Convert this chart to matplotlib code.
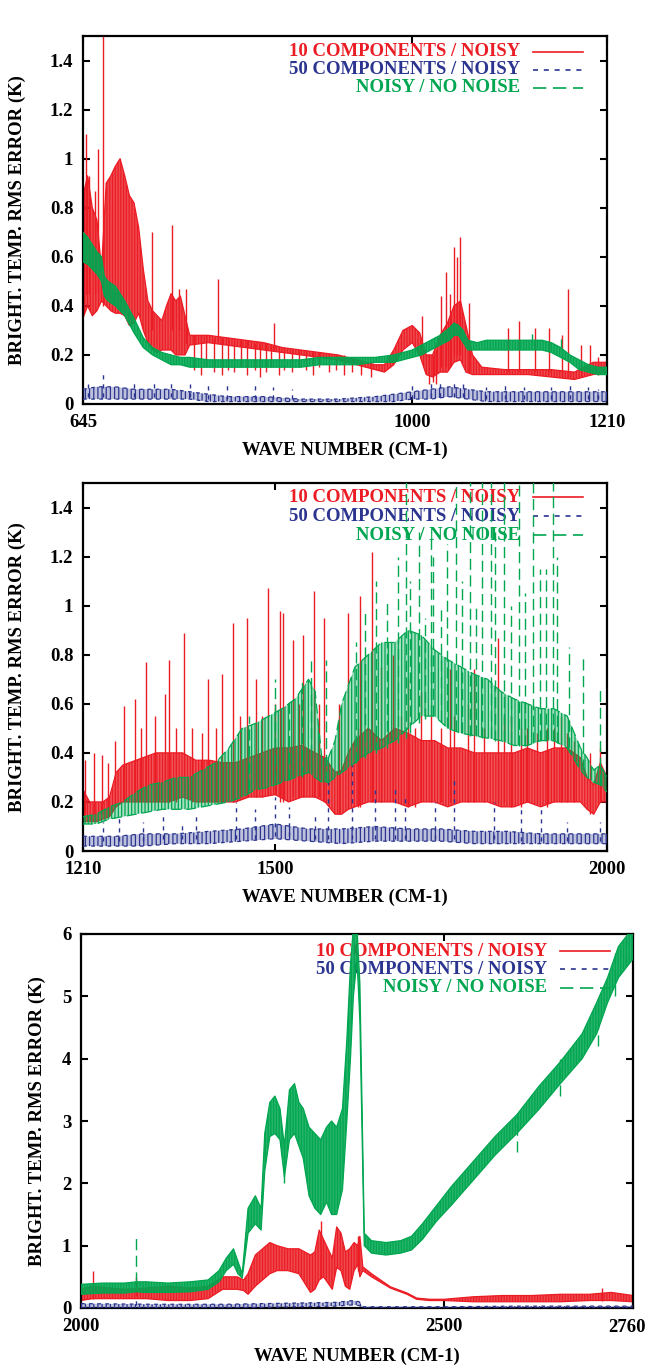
import matplotlib
matplotlib.use('Agg')
import matplotlib.pyplot as plt
from matplotlib.lines import Line2D
from matplotlib.colors import to_rgba

# colores de las tres curvas
RED = '#ec1c24'
BLUE = '#2b3590'
GREEN = '#00a650'

# ---------------- panel 1 : 645 - 1210 ----------------
p1_red_x = [645, 650, 655, 660, 665, 670, 675, 680, 685, 690, 695, 700, 705, 710, 715, 720, 725, 730, 735, 740,
            745, 750, 755, 760, 780, 800, 820, 840, 860, 880, 900, 920, 940, 960, 970, 980, 990, 1000, 1008, 1015,
            1022, 1030, 1038, 1045, 1052, 1058, 1065, 1075, 1100, 1125, 1150, 1175, 1195, 1210]
p1_red_hi = [0.85, 0.93, 0.8, 0.75, 0.55, 0.9, 0.93, 0.97, 1.0, 0.93, 0.85, 0.82, 0.72, 0.55, 0.42, 0.38, 0.36, 0.34, 0.4, 0.45,
             0.42, 0.44, 0.36, 0.28, 0.28, 0.27, 0.26, 0.25, 0.23, 0.22, 0.21, 0.2, 0.18, 0.16, 0.16, 0.22, 0.3, 0.32, 0.29, 0.2,
             0.2, 0.28, 0.33, 0.4, 0.42, 0.32, 0.2, 0.15, 0.14, 0.14, 0.14, 0.13, 0.17, 0.17]
p1_red_lo = [0.35, 0.4, 0.36, 0.38, 0.42, 0.4, 0.38, 0.37, 0.37, 0.36, 0.32, 0.33, 0.37, 0.3, 0.25, 0.22, 0.21, 0.22, 0.22, 0.22,
             0.2, 0.2, 0.2, 0.24, 0.25, 0.24, 0.23, 0.22, 0.21, 0.2, 0.19, 0.18, 0.16, 0.14, 0.13, 0.16, 0.22, 0.25, 0.2, 0.12,
             0.11, 0.13, 0.13, 0.17, 0.18, 0.13, 0.12, 0.12, 0.12, 0.12, 0.11, 0.1, 0.12, 0.13]
p1_red_vx = [648, 652, 658, 661, 667, 719, 741, 748, 756, 791, 851, 765, 772, 778, 786, 795, 801, 808, 815, 822,
             830, 836, 842, 848, 856, 862, 870, 878, 885, 893, 900, 910, 918, 926, 935, 945, 955, 1010, 1018, 1022,
             1026, 1031, 1036, 1041, 1045, 1048, 1051, 1061, 1103, 1115, 1132, 1148, 1161, 1168, 1182, 1192, 1200]
p1_red_v0 = [0.45, 0.45, 0.45, 0.45, 0.4, 0.3, 0.3, 0.3, 0.25, 0.25, 0.22, 0.14, 0.12, 0.15, 0.13, 0.12, 0.14, 0.13, 0.15, 0.12,
             0.14, 0.11, 0.13, 0.15, 0.12, 0.14, 0.13, 0.15, 0.14, 0.12, 0.15, 0.13, 0.14, 0.12, 0.13, 0.12, 0.11, 0.2, 0.08, 0.09,
             0.08, 0.15, 0.15, 0.15, 0.2, 0.2, 0.2, 0.13, 0.13, 0.13, 0.13, 0.13, 0.12, 0.11, 0.11, 0.12, 0.12]
p1_red_v1 = [1.1, 0.93, 0.87, 1.04, 1.6, 0.7, 0.73, 0.47, 0.47, 0.51, 0.33, 0.28, 0.28, 0.28, 0.27, 0.27, 0.27, 0.26, 0.26, 0.26,
             0.25, 0.25, 0.25, 0.24, 0.23, 0.23, 0.22, 0.22, 0.22, 0.21, 0.21, 0.2, 0.2, 0.2, 0.19, 0.18, 0.17, 0.36, 0.2, 0.2,
             0.22, 0.44, 0.54, 0.45, 0.64, 0.6, 0.68, 0.41, 0.31, 0.34, 0.31, 0.31, 0.28, 0.47, 0.24, 0.24, 0.19]

p1_blu_x = [645, 660, 680, 700, 720, 740, 760, 780, 800, 840, 880, 920, 960, 980, 1000, 1020, 1040, 1060, 1080, 1100, 1140, 1180, 1210]
p1_blu_hi = [0.06, 0.07, 0.07, 0.06, 0.06, 0.06, 0.05, 0.04, 0.03, 0.03, 0.02, 0.02, 0.03, 0.04, 0.05, 0.06, 0.07, 0.06, 0.05, 0.05, 0.05, 0.05, 0.05]
p1_blu_lo = [0.02, 0.02, 0.02, 0.02, 0.02, 0.02, 0.02, 0.01, 0.01, 0.01, 0.01, 0.01, 0.01, 0.01, 0.02, 0.02, 0.03, 0.02, 0.01, 0.01, 0.01, 0.01, 0.01]
p1_blu_vx = [650, 667, 700, 722, 740, 760, 780, 800, 830, 850, 870, 1000, 1020, 1030, 1045, 1055, 1080, 1100, 1120, 1150, 1170, 1190, 1200]
p1_blu_v0 = [0.03, 0.03, 0.03, 0.03, 0.03, 0.03, 0.02, 0.02, 0.02, 0.02, 0.02, 0.02, 0.03, 0.03, 0.03, 0.03, 0.02, 0.02, 0.02, 0.02, 0.02, 0.02, 0.02]
p1_blu_v1 = [0.08, 0.14, 0.1, 0.1, 0.1, 0.08, 0.09, 0.08, 0.09, 0.07, 0.06, 0.08, 0.1, 0.09, 0.1, 0.08, 0.07, 0.08, 0.07, 0.07, 0.08, 0.07, 0.06]

p1_grn_x = [645, 650, 655, 660, 665, 668, 672, 680, 690, 700, 710, 720, 730, 740, 750, 760, 780, 800, 820, 840,
            860, 880, 900, 920, 940, 960, 980, 1000, 1010, 1020, 1030, 1040, 1045, 1050, 1055, 1060, 1070, 1080, 1100, 1120,
            1140, 1150, 1160, 1170, 1180, 1190, 1200, 1210]
p1_grn_hi = [0.7, 0.68, 0.65, 0.62, 0.6, 0.52, 0.5, 0.48, 0.42, 0.35, 0.27, 0.23, 0.21, 0.2, 0.19, 0.19, 0.18, 0.18, 0.18, 0.18,
             0.18, 0.18, 0.19, 0.19, 0.19, 0.19, 0.2, 0.22, 0.24, 0.26, 0.28, 0.31, 0.33, 0.32, 0.3, 0.26, 0.25, 0.26, 0.26, 0.26,
             0.26, 0.25, 0.23, 0.2, 0.18, 0.16, 0.15, 0.15]
p1_grn_lo = [0.58, 0.57, 0.55, 0.53, 0.5, 0.44, 0.42, 0.4, 0.36, 0.29, 0.23, 0.2, 0.18, 0.16, 0.16, 0.15, 0.15, 0.15, 0.15, 0.15,
             0.15, 0.15, 0.16, 0.16, 0.16, 0.17, 0.17, 0.19, 0.2, 0.22, 0.24, 0.26, 0.28, 0.28, 0.25, 0.22, 0.22, 0.22, 0.22, 0.22,
             0.22, 0.21, 0.19, 0.17, 0.14, 0.13, 0.12, 0.12]
p1_grn_vx = [1129, 1160]
p1_grn_v0 = [0.24, 0.22]
p1_grn_v1 = [0.3, 0.27]

# ---------------- panel 2 : 1210 - 2000 ----------------
p2_red_x = [1210, 1220, 1230, 1240, 1250, 1260, 1270, 1280, 1300, 1320, 1340, 1360, 1380, 1400, 1420, 1440, 1460, 1480, 1500, 1520,
            1540, 1560, 1575, 1590, 1600, 1610, 1620, 1640, 1660, 1680, 1700, 1720, 1740, 1760, 1780, 1800, 1820, 1840, 1860, 1880,
            1900, 1920, 1940, 1960, 1970, 1980, 1990, 2000]
p2_red_hi = [0.25, 0.2, 0.2, 0.2, 0.22, 0.32, 0.35, 0.36, 0.38, 0.4, 0.4, 0.4, 0.37, 0.37, 0.36, 0.36, 0.38, 0.4, 0.42, 0.42,
             0.43, 0.4, 0.38, 0.32, 0.33, 0.4, 0.45, 0.5, 0.45, 0.5, 0.48, 0.45, 0.45, 0.42, 0.42, 0.4, 0.4, 0.4, 0.4, 0.42,
             0.4, 0.42, 0.42, 0.38, 0.3, 0.27, 0.36, 0.3]
p2_red_lo = [0.12, 0.12, 0.12, 0.13, 0.14, 0.18, 0.2, 0.2, 0.2, 0.2, 0.2, 0.22, 0.2, 0.2, 0.2, 0.2, 0.22, 0.22, 0.23, 0.2,
             0.22, 0.22, 0.2, 0.15, 0.15, 0.17, 0.18, 0.2, 0.2, 0.2, 0.18, 0.2, 0.2, 0.18, 0.2, 0.2, 0.2, 0.18, 0.18, 0.2,
             0.18, 0.2, 0.2, 0.2, 0.17, 0.15, 0.2, 0.2]
p2_red_vx = [1213, 1226, 1239, 1248, 1258, 1272, 1288, 1297, 1305, 1319, 1333, 1339, 1350, 1362, 1375, 1389, 1398, 1410, 1419, 1436,
             1447, 1457, 1471, 1480, 1489, 1500, 1507, 1511, 1526, 1535, 1542, 1559, 1566, 1574, 1596, 1610, 1625, 1627, 1645, 1660,
             1678, 1690, 1700, 1710, 1720, 1735, 1750, 1763, 1770, 1790, 1800, 1815, 1835, 1845, 1855, 1870, 1880, 1895, 1910, 1920,
             1930, 1940, 1950, 1975, 1990]
p2_red_v0 = [0.15, 0.15, 0.15, 0.15, 0.18, 0.2, 0.2, 0.2, 0.2, 0.2, 0.2, 0.2, 0.2, 0.22, 0.2, 0.2, 0.2, 0.2, 0.2, 0.2,
             0.22, 0.22, 0.22, 0.22, 0.23, 0.23, 0.2, 0.2, 0.22, 0.22, 0.22, 0.22, 0.22, 0.2, 0.15, 0.17, 0.18, 0.18, 0.2, 0.2,
             0.2, 0.2, 0.18, 0.18, 0.2, 0.2, 0.2, 0.2, 0.2, 0.2, 0.2, 0.2, 0.2, 0.2, 0.18, 0.18, 0.2, 0.2, 0.18, 0.2,
             0.2, 0.2, 0.2, 0.15, 0.2]
p2_red_v1 = [0.37, 0.4, 0.39, 0.36, 0.45, 0.59, 0.62, 0.5, 0.77, 0.55, 0.64, 0.78, 0.5, 0.89, 0.5, 0.48, 0.7, 0.5, 0.72, 0.93,
             0.55, 0.95, 0.7, 0.55, 1.07, 0.6, 0.98, 0.97, 0.86, 0.6, 0.88, 1.06, 0.6, 0.95, 0.6, 0.97, 0.5, 1.04, 1.22, 0.75,
             0.8, 0.55, 0.7, 0.5, 0.65, 0.55, 0.5, 0.74, 0.55, 0.6, 0.74, 0.5, 0.87, 0.55, 0.55, 0.5, 0.5, 0.48, 0.5, 0.5,
             0.55, 0.48, 0.45, 0.4, 0.42]

p2_blu_x = [1210, 1260, 1300, 1350, 1400, 1450, 1500, 1550, 1600, 1650, 1700, 1750, 1800, 1850, 1900, 1950, 2000]
p2_blu_hi = [0.06, 0.06, 0.07, 0.07, 0.08, 0.09, 0.11, 0.09, 0.09, 0.1, 0.09, 0.09, 0.08, 0.08, 0.07, 0.07, 0.07]
p2_blu_lo = [0.02, 0.02, 0.02, 0.03, 0.03, 0.04, 0.05, 0.04, 0.03, 0.04, 0.04, 0.04, 0.03, 0.03, 0.03, 0.03, 0.03]
p2_blu_vx = [1240, 1265, 1300, 1330, 1360, 1380, 1440, 1470, 1500, 1520, 1560, 1579, 1616, 1650, 1680, 1695, 1740, 1770, 1830, 1870, 1900, 1940, 1990]
p2_blu_v0 = [0.04, 0.04, 0.04, 0.05, 0.05, 0.05, 0.05, 0.05, 0.06, 0.06, 0.05, 0.05, 0.05, 0.05, 0.05, 0.05, 0.05, 0.05, 0.05, 0.04, 0.04, 0.04, 0.04]
p2_blu_v1 = [0.12, 0.14, 0.12, 0.15, 0.12, 0.16, 0.2, 0.17, 0.22, 0.18, 0.16, 0.28, 0.35, 0.25, 0.27, 0.23, 0.2, 0.3, 0.2, 0.18, 0.18, 0.12, 0.12]

p2_grn_x = [1210, 1230, 1250, 1270, 1290, 1310, 1330, 1350, 1370, 1390, 1410, 1430, 1450, 1470, 1490, 1510, 1530, 1550, 1560, 1570,
            1580, 1590, 1600, 1620, 1640, 1660, 1680, 1700, 1720, 1740, 1760, 1780, 1800, 1820, 1840, 1860, 1880, 1900, 1920, 1940,
            1960, 1970, 1980, 1990, 2000]
p2_grn_hi = [0.14, 0.15, 0.18, 0.2, 0.24, 0.27, 0.28, 0.3, 0.3, 0.33, 0.36, 0.42, 0.5, 0.52, 0.55, 0.58, 0.62, 0.7, 0.65, 0.38,
             0.38, 0.45, 0.6, 0.75, 0.8, 0.85, 0.85, 0.9, 0.88, 0.82, 0.78, 0.75, 0.72, 0.7, 0.65, 0.62, 0.6, 0.58, 0.58, 0.55,
             0.42, 0.38, 0.33, 0.35, 0.3]
p2_grn_lo = [0.11, 0.11, 0.13, 0.14, 0.15, 0.16, 0.17, 0.17, 0.17, 0.18, 0.19, 0.2, 0.22, 0.25, 0.26, 0.28, 0.3, 0.32, 0.3, 0.28,
             0.28, 0.3, 0.32, 0.36, 0.4, 0.42, 0.45, 0.5, 0.55, 0.55, 0.5, 0.48, 0.47, 0.46, 0.45, 0.43, 0.43, 0.45, 0.45, 0.42,
             0.33, 0.3, 0.28, 0.27, 0.24]
p2_grn_vx = [1460, 1500, 1520, 1540, 1554, 1576, 1622, 1635, 1652, 1669, 1685, 1697, 1703, 1716, 1725, 1734, 1737, 1750, 1759, 1772,
             1781, 1793, 1803, 1812, 1825, 1831, 1845, 1856, 1868, 1877, 1889, 1899, 1908, 1918, 1924, 1943, 1964, 1989]
p2_grn_v0 = [0.25, 0.28, 0.29, 0.3, 0.32, 0.28, 0.36, 0.38, 0.4, 0.42, 0.44, 0.46, 0.48, 0.52, 0.54, 0.55, 0.55, 0.53, 0.5, 0.49,
             0.48, 0.47, 0.47, 0.46, 0.46, 0.45, 0.45, 0.44, 0.43, 0.43, 0.44, 0.45, 0.45, 0.45, 0.44, 0.42, 0.33, 0.27]
p2_grn_v1 = [0.55, 0.7, 0.62, 0.7, 0.78, 0.78, 0.85, 0.97, 1.1, 1.03, 1.2, 1.6, 1.1, 1.3, 0.95, 1.3, 1.2, 1.0, 1.25, 1.6,
             1.1, 1.6, 1.0, 1.6, 1.6, 1.3, 1.6, 1.0, 1.6, 1.05, 1.6, 1.15, 1.15, 1.6, 1.2, 0.83, 0.8, 0.66]

# ---------------- panel 3 : 2000 - 2760 ----------------
p3_red_x = [2000, 2016, 2030, 2060, 2090, 2120, 2150, 2175, 2195, 2215, 2224, 2230, 2240, 2250, 2260, 2270, 2285, 2300, 2308, 2316,
            2322, 2328, 2334, 2340, 2346, 2352, 2358, 2364, 2370, 2376, 2381, 2384, 2388, 2400, 2426, 2449, 2462, 2480, 2500, 2540,
            2580, 2620, 2660, 2700, 2730, 2760]
p3_red_hi = [0.3, 0.35, 0.33, 0.3, 0.32, 0.35, 0.32, 0.35, 0.5, 0.5, 0.45, 0.55, 0.85, 0.95, 1.05, 1.0, 0.95, 0.95, 0.9, 0.85,
             0.9, 1.25, 1.1, 0.95, 0.8, 1.3, 1.2, 0.9, 0.95, 1.05, 1.0, 1.15, 0.66, 0.55, 0.34, 0.24, 0.16, 0.14, 0.14, 0.18,
             0.2, 0.2, 0.22, 0.22, 0.25, 0.2]
p3_red_lo = [0.12, 0.15, 0.15, 0.15, 0.15, 0.12, 0.12, 0.15, 0.3, 0.3, 0.28, 0.22, 0.35, 0.45, 0.55, 0.6, 0.6, 0.55, 0.4, 0.25,
             0.3, 0.45, 0.5, 0.4, 0.3, 0.65, 0.6, 0.35, 0.3, 0.6, 0.7, 0.5, 0.6, 0.5, 0.32, 0.22, 0.14, 0.12, 0.12, 0.1,
             0.1, 0.1, 0.1, 0.12, 0.12, 0.1]
p3_red_vx = [2016, 2076, 2330, 2382, 2718]
p3_red_v0 = [0.15, 0.2, 0.5, 0.6, 0.12]
p3_red_v1 = [0.6, 0.5, 1.4, 1.15, 0.32]

p3_blu_x = [2000, 2100, 2200, 2300, 2350, 2375, 2383, 2388, 2500, 2600, 2760]
p3_blu_hi = [0.07, 0.06, 0.06, 0.08, 0.09, 0.12, 0.1, 0.02, 0.02, 0.03, 0.03]
p3_blu_lo = [0.0, 0.0, 0.0, 0.02, 0.03, 0.05, 0.04, 0.0, 0.0, 0.0, 0.0]
p3_blu_vx = [2076]
p3_blu_v0 = [0.05]
p3_blu_v1 = [0.15]

p3_grn_x = [2000, 2030, 2060, 2076, 2090, 2120, 2150, 2175, 2190, 2200, 2210, 2216, 2222, 2230, 2240, 2248, 2253, 2260, 2267, 2274,
            2280, 2287, 2294, 2300, 2306, 2314, 2322, 2330, 2338, 2345, 2352, 2360, 2366, 2371, 2375, 2380, 2384, 2390, 2400, 2420,
            2440, 2455, 2470, 2490, 2510, 2540, 2570, 2600, 2630, 2660, 2690, 2710, 2725, 2740, 2760]
p3_grn_hi = [0.38, 0.4, 0.4, 0.42, 0.42, 0.4, 0.42, 0.45, 0.6, 0.8, 0.95, 0.75, 0.55, 1.6, 1.8, 1.6, 2.8, 3.3, 3.4, 3.2,
             2.6, 3.5, 3.6, 3.3, 3.2, 2.9, 2.8, 2.7, 2.9, 3.0, 2.9, 3.2, 4.3, 5.5, 6.1, 6.1, 5.2, 1.2, 1.08, 1.05,
             1.08, 1.15, 1.35, 1.65, 1.95, 2.35, 2.75, 3.1, 3.55, 3.95, 4.4, 4.9, 5.3, 5.8, 6.1]
p3_grn_lo = [0.22, 0.24, 0.24, 0.26, 0.25, 0.25, 0.26, 0.3, 0.42, 0.6, 0.7, 0.55, 0.48, 1.2, 1.35, 1.25, 2.2, 2.75, 2.8, 2.7,
             2.1, 2.7, 2.8, 2.6, 2.4, 1.8, 1.6, 1.5, 1.7, 1.5, 1.5, 1.9, 3.0, 4.0, 5.0, 5.6, 4.6, 1.0, 0.88, 0.85,
             0.88, 0.93, 1.1, 1.4, 1.65, 2.05, 2.45, 2.8, 3.18, 3.6, 4.0, 4.4, 4.9, 5.3, 5.6]
p3_grn_vx = [2076, 2280, 2600, 2660, 2712, 2735, 2750]
p3_grn_v0 = [0.4, 2.0, 2.5, 3.4, 4.2, 5.0, 5.5]
p3_grn_v1 = [1.2, 2.6, 3.1, 4.0, 4.8, 5.7, 6.1]

# textos
legend_labels = ['10 COMPONENTS / NOISY', '50 COMPONENTS / NOISY', 'NOISY / NO NOISE']
xlabel = 'WAVE NUMBER (CM-1)'
ylabel = 'BRIGHT. TEMP. RMS ERROR (K)'
yticks_small = [0, 0.2, 0.4, 0.6, 0.8, 1, 1.2, 1.4]
small_labels = ['0', '0.2', '0.4', '0.6', '0.8', '1', '1.2', '1.4']
yticks_big = [0, 1, 2, 3, 4, 5, 6]

W, H = 648, 1367
plt.rcParams['font.family'] = ['Liberation Serif', 'DejaVu Serif']
plt.rcParams['font.weight'] = 'bold'
plt.rcParams['font.size'] = 13.5
plt.rcParams['hatch.linewidth'] = 0.9

fig = plt.figure(figsize=(W / 100, H / 100), dpi=100)

DASH_BLUE = (0, (3, 3.5))
DASH_GREEN = (0, (8, 4))
styles = [(RED, '-'), (BLUE, DASH_BLUE), (GREEN, DASH_GREEN)]


def new_axes(l, r, t, b):
    return fig.add_axes([l / W, 1 - b / H, (r - l) / W, (b - t) / H])


def band(ax, x, lo, hi, color, alpha, z, hatch='||||||', ls='-'):
    # banda de ruido: relleno + rayado vertical denso
    ax.fill_between(x, lo, hi, facecolor=to_rgba(color, alpha), edgecolor=color,
                    hatch=hatch, lw=0, zorder=z)
    ax.plot(x, hi, color=color, lw=0.9, ls=ls, zorder=z)
    ax.plot(x, lo, color=color, lw=0.9, ls=ls, zorder=z)


def strokes(ax, x, y0, y1, color, ls, z):
    ax.vlines(x, y0, y1, colors=color, linestyles=ls, lw=1.0, zorder=z)


def leyenda(ax, rows, text_right, x0, x1):
    for lab, (col, ls), ypx in zip(legend_labels, styles, rows):
        ax.text(text_right / W, 1 - ypx / H, lab, transform=fig.transFigure, ha='right', va='center',
                color=col, zorder=1)
        ax.add_line(Line2D([x0 / W, x1 / W], [1 - ypx / H, 1 - ypx / H], transform=fig.transFigure,
                           color=col, ls=ls, lw=1.2, zorder=1))


def style(ax, xlim, xticks, xlabels, ylim, yticks, ylabels):
    ax.set_xlim(*xlim)
    ax.set_ylim(*ylim)
    ax.set_xticks(xticks)
    ax.set_xticklabels(xlabels)
    ax.set_yticks(yticks)
    ax.set_yticklabels(ylabels)
    ax.tick_params(direction='in', length=5, width=1.5, top=True, right=True, pad=7)
    for s in ax.spines.values():
        s.set_linewidth(1.6)


# panel 1
ax1 = new_axes(83, 607, 36, 404)
band(ax1, p1_red_x, p1_red_lo, p1_red_hi, RED, 0.8, 2)
strokes(ax1, p1_red_vx, p1_red_v0, p1_red_v1, RED, '-', 2)
band(ax1, p1_blu_x, p1_blu_lo, p1_blu_hi, BLUE, 0.3, 3, hatch='||||', ls=DASH_BLUE)
strokes(ax1, p1_blu_vx, p1_blu_v0, p1_blu_v1, BLUE, DASH_BLUE, 3)
band(ax1, p1_grn_x, p1_grn_lo, p1_grn_hi, GREEN, 0.85, 4)
strokes(ax1, p1_grn_vx, p1_grn_v0, p1_grn_v1, GREEN, DASH_GREEN, 4)
style(ax1, (645, 1210), [645, 1000, 1210], ['645', '1000', '1210'], (0, 1.5), yticks_small, small_labels)
leyenda(ax1, [52, 70, 88], 520, 533, 583)

# panel 2
ax2 = new_axes(83, 607, 483, 851)
band(ax2, p2_red_x, p2_red_lo, p2_red_hi, RED, 0.75, 2)
strokes(ax2, p2_red_vx, p2_red_v0, p2_red_v1, RED, '-', 2)
band(ax2, p2_blu_x, p2_blu_lo, p2_blu_hi, BLUE, 0.3, 3, hatch='||||', ls=DASH_BLUE)
strokes(ax2, p2_blu_vx, p2_blu_v0, p2_blu_v1, BLUE, DASH_BLUE, 3)
band(ax2, p2_grn_x, p2_grn_lo, p2_grn_hi, GREEN, 0.35, 4, hatch='|||||', ls=DASH_GREEN)
strokes(ax2, p2_grn_vx, p2_grn_v0, p2_grn_v1, GREEN, DASH_GREEN, 4)
style(ax2, (1210, 2000), [1210, 1500, 2000], ['1210', '1500', '2000'], (0, 1.5), yticks_small, small_labels)
leyenda(ax2, [497, 516, 535], 520, 533, 583)

# panel 3
ax3 = new_axes(81, 633, 934, 1308)
band(ax3, p3_red_x, p3_red_lo, p3_red_hi, RED, 0.8, 2)
strokes(ax3, p3_red_vx, p3_red_v0, p3_red_v1, RED, '-', 2)
band(ax3, p3_blu_x, p3_blu_lo, p3_blu_hi, BLUE, 0.3, 3, hatch='||||', ls=DASH_BLUE)
strokes(ax3, p3_blu_vx, p3_blu_v0, p3_blu_v1, BLUE, DASH_BLUE, 3)
band(ax3, p3_grn_x, p3_grn_lo, p3_grn_hi, GREEN, 0.85, 4)
strokes(ax3, p3_grn_vx, p3_grn_v0, p3_grn_v1, GREEN, DASH_GREEN, 4)
style(ax3, (2000, 2760), [2000, 2500, 2760], ['2000', '2500', ''], (0, 6), yticks_big, [str(v) for v in yticks_big])
leyenda(ax3, [951, 969, 988], 547, 560, 610)
# la etiqueta 2760 queda desplazada hacia dentro como en el original
fig.text(627 / W, 1 - 1327 / H, '2760', ha='center', va='center')

# titulos de ejes
for xc, yc in [(345, 450), (345, 897), (357, 1356)]:
    fig.text(xc / W, 1 - yc / H, xlabel, ha='center', va='center')
for xc, yc in [(17, 220), (17, 667), (37, 1121)]:
    fig.text(xc / W, 1 - yc / H, ylabel, ha='center', va='center', rotation=90)

fig.savefig('out.png', dpi=100)
